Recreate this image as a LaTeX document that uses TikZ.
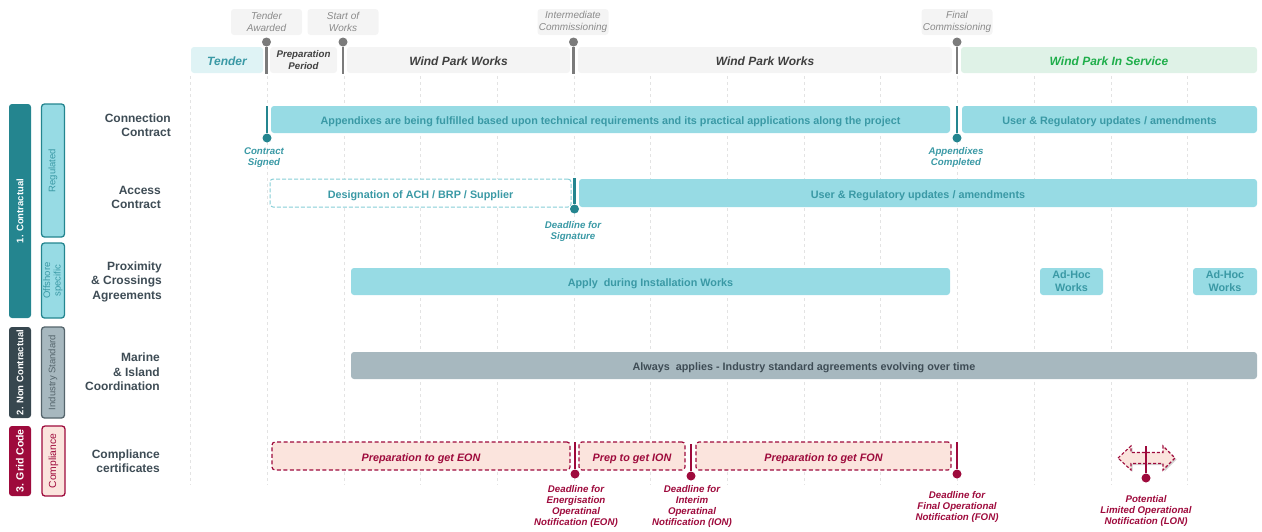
\documentclass[tikz,border=0pt]{standalone}
\usepackage{fontspec}
\setmainfont{Liberation Sans}
\usetikzlibrary{shadows}

\definecolor{tealdark}{HTML}{24858F}
\definecolor{tealbar}{HTML}{97DBE4}
\definecolor{tealtext}{HTML}{3A99A5}
\definecolor{tealpale}{HTML}{DFF3F5}
\definecolor{greypale}{HTML}{F4F4F4}
\definecolor{greytext}{HTML}{8A8A8A}
\definecolor{greystem}{HTML}{7B7B7B}
\definecolor{inktext}{HTML}{404040}
\definecolor{greenpale}{HTML}{DFF2E7}
\definecolor{greentext}{HTML}{1FAE4B}
\definecolor{slate}{HTML}{37474F}
\definecolor{slatebar}{HTML}{A7B8BF}
\definecolor{slateedge}{HTML}{55656C}
\definecolor{rowtext}{HTML}{3E4C55}
\definecolor{crimson}{HTML}{9E0A3C}
\definecolor{pinkfill}{HTML}{FBE4DD}
\definecolor{gridgrey}{HTML}{E3E3E3}

% box spanning from (x1,y1) to (x2,y2): name, style, x1, y1, x2, y2, text
\newcommand\spanbox[7]{%
  \node[#2, anchor=north west, minimum width=#5pt-#3pt, minimum height=#6pt-#4pt] (#1) at (#3,#4) {#7};}

\begin{document}
\begin{tikzpicture}[x=1pt,y=-1pt,
  box/.style={rounded corners=3pt, inner sep=0pt, outer sep=0pt, align=center},
  oneline/.style={text height=10.8pt, text depth=0pt},
  barfont/.style={font=\bfseries\fontsize{10.8}{12.8}\selectfont},
  tealbox/.style={box, fill=tealbar, text=tealtext, barfont},
  dashteal/.style={box, draw=tealbar!85!tealdark, line width=1pt, dash pattern=on 4pt off 2pt, fill=white, text=tealtext, barfont},
  dashpink/.style={box, draw=crimson, line width=1.2pt, dash pattern=on 4pt off 2.5pt, fill=pinkfill, text=crimson, font=\bfseries\itshape\fontsize{10.8}{12.8}\selectfont},
  slatebox/.style={box, fill=slatebar, text=rowtext, barfont},
  phase/.style={box, font=\bfseries\itshape\fontsize{12}{13.5}\selectfont},
  toplab/.style={box, fill=greypale, text=greytext, font=\itshape\fontsize{10}{11.5}\selectfont, minimum width=71pt, minimum height=26pt},
  rowlab/.style={anchor=east, align=right, text=rowtext, inner sep=0pt, font=\bfseries\fontsize{12}{14.5}\selectfont},
  catbox/.style={box, rotate=90, minimum height=22pt, font=\bfseries\fontsize{9.5}{10.5}\selectfont},
  subbox/.style={box, rotate=90, minimum height=23pt, line width=1.3pt, font=\fontsize{9.5}{10.5}\selectfont},
  mlab/.style={align=center, inner sep=0pt, font=\bfseries\itshape\fontsize{9.7}{11}\selectfont},
  stem/.style={line width=2.6pt},
  knob/.style={circle, inner sep=0pt, minimum size=9pt}
]
\useasboundingbox (0,0) rectangle (1262,531);

% vertical guide grid
\foreach \i in {0,...,14}
  \draw[gridgrey, line width=0.8pt, dash pattern=on 3pt off 3pt] (190.5+76.7*\i,76) -- (190.5+76.7*\i,485);

% ---------- milestone captions along the top ----------
\node[toplab] (lta) at (266.5,22) {Tender\\Awarded};
\node[toplab] (lsw) at (343,22) {Start of\\Works};
\node[toplab] (lic) at (573,22) {Intermediate\\Commissioning};
\node[toplab] (lfc) at (957,22) {Final\\Commissioning};

% ---------- project phases ----------
\spanbox{ph1}{phase, oneline, fill=tealpale, text=tealtext}{191}{47}{263}{73}{Tender}
\spanbox{ph2}{phase, fill=greypale, text=inktext, font=\bfseries\itshape\fontsize{9.7}{11.5}\selectfont}{270}{47}{337}{73}{Preparation\\Period}
\spanbox{ph3}{phase, oneline, fill=greypale, text=inktext}{347}{47}{570}{73}{Wind Park Works}
\spanbox{ph4}{phase, oneline, fill=greypale, text=inktext}{578}{47}{952}{73}{Wind Park Works}
\spanbox{ph5}{phase, oneline, fill=greenpale, text=greentext}{961}{47}{1257}{73}{Wind Park In Service}

% top milestone stems
\foreach \n/\x in {ta/266.5, sw/343, ic/573.5, fc/957}{
  \node[knob, fill=greystem] (k\n) at (\x,42) {};
  \coordinate (b\n) at (\x,74);
  \draw[stem, greystem] (k\n) -- (b\n);
}

% ---------- category column ----------
\node[catbox, fill=tealdark, text=white, minimum width=214pt] (c1) at (20,211) {1. Contractual};
\node[subbox, fill=tealbar, draw=tealdark, text=tealtext, minimum width=133pt] (s1) at (53,170.5) {Regulated};
\node[subbox, fill=tealbar, draw=tealdark, text=tealtext, minimum width=75pt] (s2) at (53,280.5) {Offshore\\specific};
\node[catbox, fill=slate, text=white, minimum width=91pt] (c2) at (20,372.5) {2. Non Contractual};
\node[subbox, fill=slatebar, draw=slateedge, text=slateedge, minimum width=91pt] (s3) at (53,372.5) {Industry Standard};
\node[catbox, fill=crimson, text=white, minimum width=70pt, font=\bfseries\fontsize{10.5}{11.5}\selectfont] (c3) at (20,461) {3. Grid Code};
\node[subbox, fill=pinkfill, draw=crimson, text=crimson, minimum width=70pt, font=\fontsize{10.3}{11.5}\selectfont] (s4) at (53.5,461) {Compliance};

% ---------- row titles ----------
\node[rowlab] (r1) at (171,125) {Connection\\Contract};
\node[rowlab] (r2) at (161,197.5) {Access\\Contract};
\node[rowlab] (r3) at (162,281.5) {Proximity\\\& Crossings\\Agreements};
\node[rowlab] (r4) at (160,372) {Marine\\\& Island\\Coordination};
\node[rowlab] (r5) at (160,461) {Compliance\\certificates};

% ---------- connection contract ----------
\spanbox{cc1}{tealbox, oneline}{271}{106}{950}{133}{Appendixes are being fulfilled based upon technical requirements and its practical applications along the project}
\spanbox{cc2}{tealbox, oneline}{962}{106}{1257}{133}{User \& Regulatory updates / amendments}
\node[knob, fill=tealdark] (kcs) at (267,138) {};
\coordinate (tcs) at (267,106);
\draw[stem, tealdark] (tcs) -- (kcs);
\node[mlab, text=tealtext] (mcs) at (264,158) {Contract\\Signed};
\node[knob, fill=tealdark] (kac) at (957,138) {};
\coordinate (tac) at (957,106);
\draw[stem, tealdark] (tac) -- (kac);
\node[mlab, text=tealtext] (mac) at (956,157.5) {Appendixes\\Completed};

% ---------- access contract ----------
\spanbox{ac1}{dashteal, oneline}{270}{179}{571}{207}{Designation of ACH / BRP / Supplier}
\spanbox{ac2}{tealbox, oneline}{579}{179}{1257}{207}{User \& Regulatory updates / amendments}
\node[knob, fill=tealdark] (kds) at (574.5,209) {};
\coordinate (tds) at (574.5,178);
\draw[stem, tealdark] (tds) -- (kds);
\node[mlab, text=tealtext] (mds) at (573,231.5) {Deadline for\\Signature};

% ---------- proximity & crossings ----------
\spanbox{pc1}{tealbox, oneline}{351}{268}{950}{295}{Apply\ \ during Installation Works}
\spanbox{pc2}{tealbox}{1040}{268}{1103}{295}{Ad-Hoc\\Works}
\spanbox{pc3}{tealbox}{1193}{268}{1257}{295}{Ad-Hoc\\Works}

% ---------- marine & island ----------
\spanbox{mi1}{slatebox, oneline}{351}{352}{1257}{379}{Always\ \ applies - Industry standard agreements evolving over time}

% ---------- compliance certificates ----------
\spanbox{cp1}{dashpink, oneline}{272}{442}{570}{470}{Preparation to get EON}
\spanbox{cp2}{dashpink, oneline}{579}{442}{685}{470}{Prep to get ION}
\spanbox{cp3}{dashpink, oneline}{696}{442}{951}{470}{Preparation to get FON}

\node[knob, fill=crimson] (keon) at (575,474) {};
\coordinate (teon) at (575,442);
\draw[stem, crimson] (teon) -- (keon);
\node[mlab, text=crimson] (meon) at (576,506.5) {Deadline for\\Energisation\\Operatinal\\Notification (EON)};

\node[knob, fill=crimson] (kion) at (691,476) {};
\coordinate (tion) at (691,444);
\draw[stem, crimson] (tion) -- (kion);
\node[mlab, text=crimson] (mion) at (692,506.5) {Deadline for\\Interim\\Operatinal\\Notification (ION)};

\node[knob, fill=crimson] (kfon) at (957,474) {};
\coordinate (tfon) at (957,442);
\draw[stem, crimson] (tfon) -- (kfon);
\node[mlab, text=crimson] (mfon) at (957,506.5) {Deadline for\\Final Operational\\Notification (FON)};

% potential LON window
\draw[crimson, fill=pinkfill, line width=1.1pt, dash pattern=on 3pt off 2pt,
      drop shadow={shadow xshift=1.5pt, shadow yshift=-1.5pt, opacity=0.35}]
  (1118,458) -- (1131,446) -- (1131,452.5) -- (1163,452.5) -- (1163,446)
  -- (1175,458) -- (1163,470) -- (1163,463.5) -- (1131,463.5) -- (1131,470) -- cycle;
\node[knob, fill=crimson] (klon) at (1146,478) {};
\coordinate (tlon) at (1146,446);
\draw[stem, crimson] (tlon) -- (klon);
\node[mlab, text=crimson] (mlon) at (1146,511) {Potential\\Limited Operational\\Notification (LON)};
\end{tikzpicture}
\end{document}
